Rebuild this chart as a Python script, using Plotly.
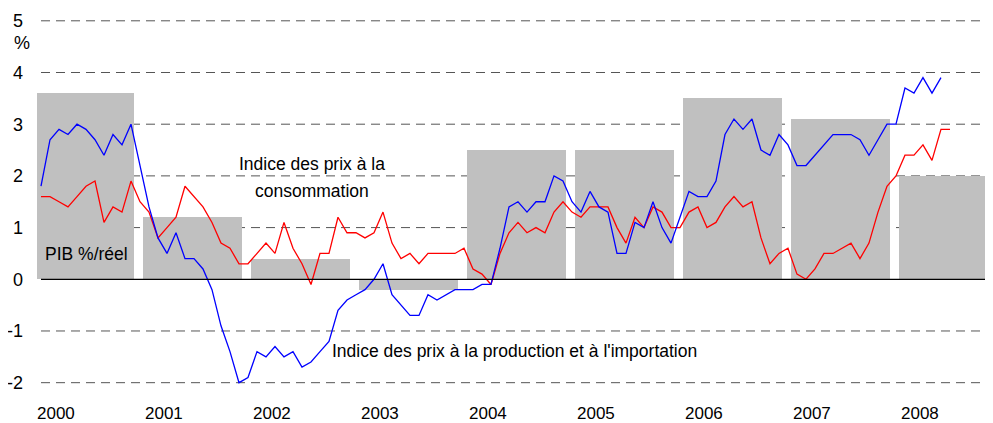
import plotly.graph_objects as go

# ---- data ----
years = [2000, 2001, 2002, 2003, 2004, 2005, 2006, 2007, 2008]
pib = [3.6, 1.2, 0.4, -0.2, 2.5, 2.5, 3.5, 3.1, 2.0]

# monthly index, month 0 = January 2000
ipp = [1.8, 2.7, 2.9, 2.8, 3.0, 2.9, 2.7, 2.4, 2.8, 2.6, 3.0, 2.2,
       1.4, 0.8, 0.5, 0.9, 0.4, 0.4, 0.2, -0.2, -0.9, -1.4, -2.0, -1.9,
       -1.4, -1.5, -1.3, -1.5, -1.4, -1.7, -1.6, -1.4, -1.2, -0.6, -0.4, -0.3,
       -0.2, 0.0, 0.3, -0.3, -0.5, -0.7, -0.7, -0.3, -0.4, -0.3, -0.2, -0.2,
       -0.2, -0.1, -0.1, 0.6, 1.4, 1.5, 1.3, 1.5, 1.5, 2.0, 1.9, 1.5,
       1.3, 1.7, 1.4, 1.3, 0.5, 0.5, 1.1, 1.0, 1.5, 1.0, 0.7, 1.2,
       1.7, 1.6, 1.6, 1.9, 2.8, 3.1, 2.9, 3.1, 2.5, 2.4, 2.8, 2.6,
       2.2, 2.2, 2.4, 2.6, 2.8, 2.8, 2.8, 2.7, 2.4, 2.7, 3.0, 3.0,
       3.7, 3.6, 3.9, 3.6, 3.9]
ipc = [1.6, 1.6, 1.5, 1.4, 1.6, 1.8, 1.9, 1.1, 1.4, 1.3, 1.9, 1.5,
       1.3, 0.8, 1.0, 1.2, 1.8, 1.6, 1.4, 1.1, 0.7, 0.6, 0.3, 0.3,
       0.5, 0.7, 0.5, 1.1, 0.6, 0.3, -0.1, 0.5, 0.5, 1.2, 0.9, 0.9,
       0.8, 0.9, 1.3, 0.7, 0.4, 0.5, 0.3, 0.5, 0.5, 0.5, 0.5, 0.6,
       0.2, 0.1, -0.1, 0.5, 0.9, 1.1, 0.9, 1.0, 0.9, 1.3, 1.5, 1.3,
       1.2, 1.4, 1.4, 1.4, 1.0, 0.7, 1.2, 1.0, 1.4, 1.3, 1.0, 1.0,
       1.3, 1.4, 1.0, 1.1, 1.4, 1.6, 1.4, 1.5, 0.8, 0.3, 0.5, 0.6,
       0.1, 0.0, 0.2, 0.5, 0.5, 0.6, 0.7, 0.4, 0.7, 1.3, 1.8, 2.0,
       2.4, 2.4, 2.6, 2.3, 2.9, 2.9]
y_ticks = [-2, -1, 0, 1, 2, 3, 4, 5]
y_ticktext = ["-2", "-1", "0", "1", "2", "3", "4", "5"]

# ---- layout helpers ----
FONT = "Liberation Sans, Arial, sans-serif"
X_MIN, X_MAX = -0.444, 105.78
BAR_W = 11.0
bar_x = [(y - 2000) * 12 + 4.88 for y in years]


def to_paper(xv):
    return (xv - X_MIN) / (X_MAX - X_MIN)


fig = go.Figure()
fig.add_trace(go.Bar(x=bar_x, y=pib, width=BAR_W, marker=dict(color="#C0C0C0", line=dict(width=0)),
                     hoverinfo="skip", showlegend=False))
fig.add_trace(go.Scatter(x=list(range(len(ipc))), y=ipc, mode="lines",
                         line=dict(color="#FF0000", width=1.3), showlegend=False))
fig.add_trace(go.Scatter(x=list(range(len(ipp))), y=ipp, mode="lines",
                         line=dict(color="#0000FF", width=1.3), showlegend=False))

shapes = []
for v in y_ticks:
    if v == 0:
        continue
    shapes.append(dict(type="line", xref="x", yref="y", x0=0, x1=X_MAX, y0=v, y1=v,
                       layer="below", line=dict(color="#555555", width=1, dash="9px,6px")))
shapes.append(dict(type="line", xref="x", yref="y", x0=0, x1=X_MAX, y0=0, y1=0,
                   layer="above", line=dict(color="#000000", width=1.3)))

annotations = []
for y, bx in zip(years, bar_x):
    annotations.append(dict(x=to_paper(bx - BAR_W / 2), y=-0.043, xref="paper", yref="paper",
                            text=str(y), showarrow=False, xanchor="left", yanchor="middle",
                            font=dict(family=FONT, size=17, color="#000")))
annotations += [
    dict(x=-0.005, y=4.57, xref="paper", yref="y", text="%", showarrow=False,
         xanchor="right", yanchor="middle", font=dict(family=FONT, size=18, color="#000")),
    dict(x=30.1, y=2.23, xref="x", yref="y", text="Indice des prix à la",
         showarrow=False, xanchor="center", yanchor="middle",
         font=dict(family=FONT, size=17.5, color="#000")),
    dict(x=30.1, y=1.70, xref="x", yref="y", text="consommation",
         showarrow=False, xanchor="center", yanchor="middle",
         font=dict(family=FONT, size=17.5, color="#000")),
    dict(x=52.56, y=-1.39, xref="x", yref="y",
         text="Indice des prix à la production et à l'importation",
         showarrow=False, xanchor="center", yanchor="middle",
         font=dict(family=FONT, size=17.5, color="#000")),
    dict(x=0.2, y=0.49, xref="x", yref="y", text="PIB %/réel",
         showarrow=False, xanchor="left", yanchor="middle",
         font=dict(family=FONT, size=17.5, color="#000")),
]

# the page body adds an 8px margin at left/top: figure is sized to fit the 993x423 window
fig.update_layout(
    width=985, height=415,
    margin=dict(l=29, r=0, t=2, b=26),
    paper_bgcolor="white", plot_bgcolor="white",
    bargap=0,
    shapes=shapes, annotations=annotations,
    xaxis=dict(range=[X_MIN, X_MAX], showgrid=False, zeroline=False, showticklabels=False,
               showline=False, ticks=""),
    yaxis=dict(range=[-2.277, 5.209], tickvals=y_ticks, ticktext=y_ticktext,
               showgrid=False, zeroline=False,
               showline=False, ticks="", ticklabelstandoff=13,
               tickfont=dict(family=FONT, size=18, color="#000")),
    font=dict(family=FONT),
)

fig.write_html("out.html")
